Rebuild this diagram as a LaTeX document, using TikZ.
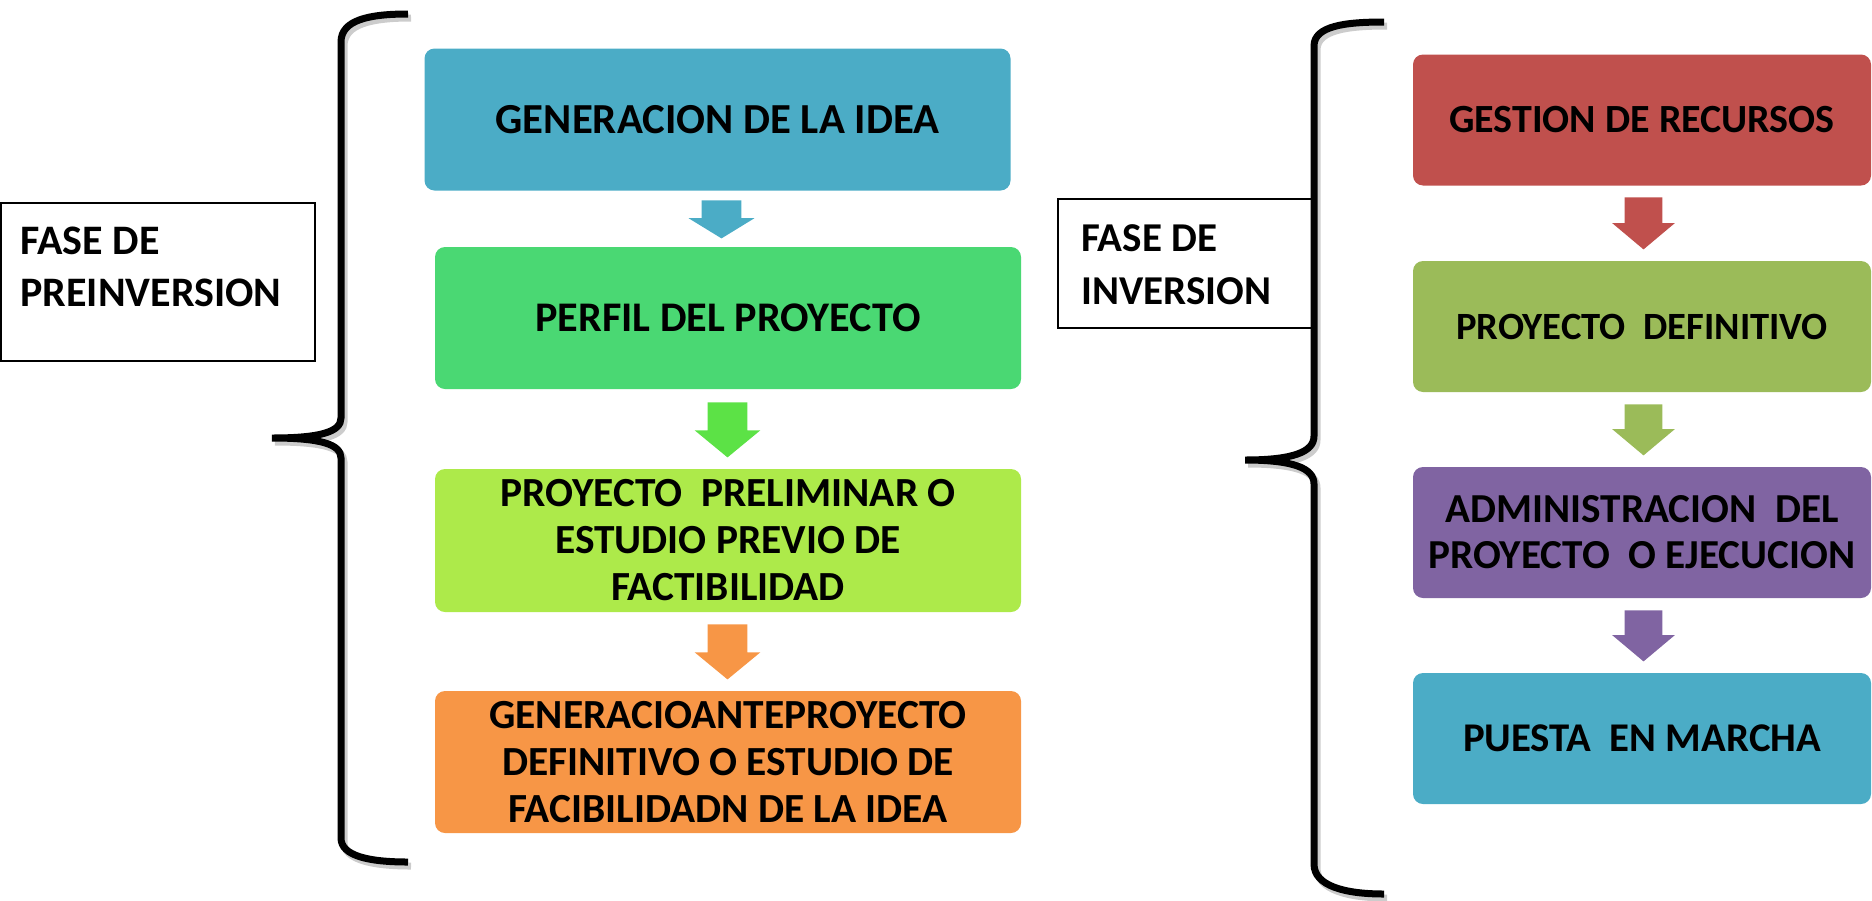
\documentclass[tikz,border=0pt]{standalone}
\usepackage{fontspec}
\setmainfont{Carlito}
\usetikzlibrary{shapes.arrows}

\definecolor{ideablue}{HTML}{4BACC6}
\definecolor{perfilgreen}{HTML}{4AD873}
\definecolor{prelimlime}{HTML}{ADEA4A}
\definecolor{anteorange}{HTML}{F79646}
\definecolor{gestionred}{HTML}{C0504D}
\definecolor{defolive}{HTML}{9BBB59}
\definecolor{adminpurple}{HTML}{8064A2}
\definecolor{arrowgreen}{HTML}{5CE246}

\begin{document}
\begin{tikzpicture}[x=0.5pt, y=-0.5pt,
    stagebox/.style={rounded corners=5pt, inner sep=0pt, align=center,
        font=\bfseries\fontsize{20}{23.5}\selectfont},
    leftstage/.style={stagebox, minimum width=293pt, minimum height=71pt},
    rightstage/.style={stagebox, minimum width=229pt, minimum height=65.5pt},
    phasebox/.style={draw, line width=1pt, inner sep=0pt},
    phasetext/.style={anchor=north west, inner sep=0pt, align=left,
        font=\bfseries\fontsize{20}{26}\selectfont},
    stagearrow/.style={single arrow, rotate=-90, anchor=tail, inner xsep=0pt,
        single arrow head indent=0pt},
    brace/.style={line width=3.5pt},
    braceshadow/.style={line width=3.5pt, black!20}]
    \useasboundingbox (0,0) rectangle (1872,900);

    % fase de preinversion
    \node[phasebox, minimum width=157pt, minimum height=79pt] (pre) at (158,282) {};
    \node[phasetext, font=\bfseries\fontsize{21}{26}\selectfont] (pretext) at (20,227) {FASE DE\\PREINVERSION};

    \node[leftstage, fill=ideablue, font=\bfseries\fontsize{21.4}{23.5}\selectfont] (idea) at (717.5,119.5) {GENERACION DE LA IDEA};
    \node[leftstage, fill=perfilgreen, font=\bfseries\fontsize{21.1}{23.5}\selectfont] (perfil) at (728,318) {PERFIL DEL PROYECTO};
    \node[leftstage, fill=prelimlime, minimum height=71.5pt, font=\bfseries\fontsize{20.7}{23.5}\selectfont] (prelim) at (728,540.5)
        {PROYECTO\ \ PRELIMINAR O\\ESTUDIO PREVIO DE\\FACTIBILIDAD};
    \node[leftstage, fill=anteorange, font=\bfseries\fontsize{20.7}{23.5}\selectfont] (ante) at (728,762)
        {GENERACIOANTEPROYECTO\\DEFINITIVO O ESTUDIO DE\\FACIBILIDADN DE LA IDEA};

    \node[stagearrow, fill=ideablue, minimum height=19pt, inner ysep=9.75pt,
        single arrow head extend=6.5pt, single arrow tip angle=117] (a1) at (721.5,200) {};
    \node[stagearrow, fill=arrowgreen, minimum height=27.5pt, inner ysep=9.75pt,
        single arrow head extend=6.5pt, single arrow tip angle=101] (a2) at (727.5,402) {};
    \node[stagearrow, fill=anteorange, minimum height=27.5pt, inner ysep=9.75pt,
        single arrow head extend=6.5pt, single arrow tip angle=101] (a3) at (727.5,624) {};

    \draw[braceshadow] (411,18) .. controls (372,18) and (344,24) .. (344,46) -- (344,422)
        .. controls (344,436) and (323,442) .. (275,442) .. controls (323,442) and (344,448) .. (344,462)
        -- (344,842) .. controls (344,860) and (372,866) .. (411,866);
    \draw[brace] (408,14) .. controls (369,14) and (341,20) .. (341,42) -- (341,418)
        .. controls (341,432) and (320,438) .. (272,438) .. controls (320,438) and (341,444) .. (341,458)
        -- (341,838) .. controls (341,856) and (369,862) .. (408,862);

    % fase de inversion
    \node[phasebox, minimum width=129.5pt, minimum height=64.5pt] (inv) at (1187.5,263.5) {};
    \node[phasetext, font=\bfseries\fontsize{20.5}{26.5}\selectfont] (invtext) at (1081,224) {FASE DE\\INVERSION};

    \node[rightstage, fill=gestionred] (gestion) at (1642,120) {GESTION DE RECURSOS};
    \node[rightstage, fill=defolive, font=\bfseries\fontsize{19.3}{23.5}\selectfont] (definitivo) at (1642,326.5) {PROYECTO\ \ DEFINITIVO};
    \node[rightstage, fill=adminpurple, font=\bfseries\fontsize{20.6}{23}\selectfont] (admin) at (1642,532.5)
        {ADMINISTRACION\ \ DEL\\PROYECTO\ \ O EJECUCION};
    \node[rightstage, fill=ideablue, font=\bfseries\fontsize{20.4}{23.5}\selectfont] (marcha) at (1642,738.5) {PUESTA\ \ EN MARCHA};

    \node[stagearrow, fill=gestionred, minimum height=26pt, inner ysep=9.25pt,
        single arrow head extend=6.25pt, single arrow tip angle=100] (b1) at (1643.5,197) {};
    \node[stagearrow, fill=defolive, minimum height=25.5pt, inner ysep=9.25pt,
        single arrow head extend=6.25pt, single arrow tip angle=100] (b2) at (1643.5,404) {};
    \node[stagearrow, fill=adminpurple, minimum height=25.5pt, inner ysep=9.25pt,
        single arrow head extend=6.25pt, single arrow tip angle=100] (b3) at (1643.5,610) {};

    \draw[braceshadow] (1387,26) .. controls (1348,26) and (1317,30) .. (1317,50) -- (1317,440)
        .. controls (1317,456) and (1296,464) .. (1248,464) .. controls (1296,464) and (1317,472) .. (1317,488)
        -- (1317,868) .. controls (1317,890) and (1348,898) .. (1387,898);
    \draw[brace] (1384,22) .. controls (1345,22) and (1314,26) .. (1314,46) -- (1314,436)
        .. controls (1314,452) and (1293,460) .. (1245,460) .. controls (1293,460) and (1314,468) .. (1314,484)
        -- (1314,864) .. controls (1314,886) and (1345,894) .. (1384,894);
\end{tikzpicture}
\end{document}
